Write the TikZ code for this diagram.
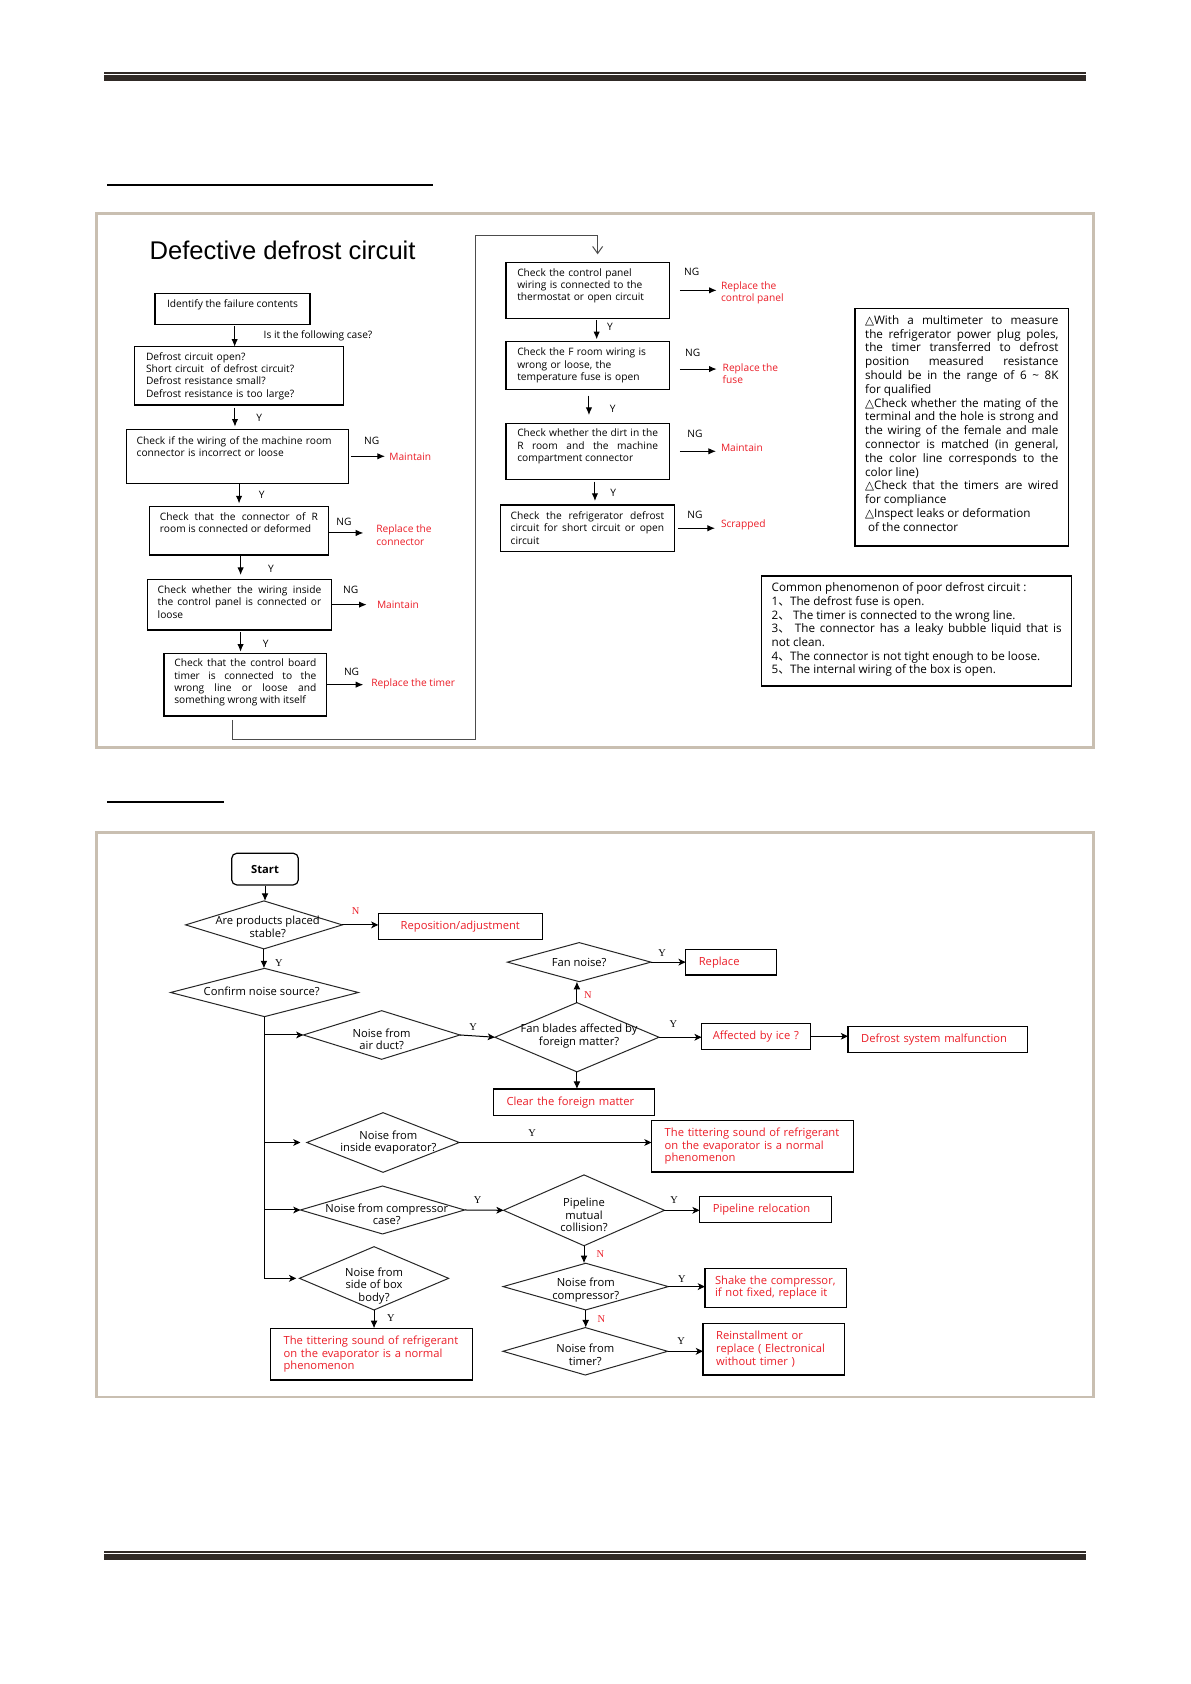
\documentclass[tikz,border=0pt]{standalone}
\usepackage{fontspec}
\setmainfont{Open Sans}
\newfontfamily\titlefont{Liberation Sans}
\newfontfamily\ynfont{Liberation Serif}
\newfontfamily\symfont{DejaVu Sans}
\newfontfamily\cjk{Noto Sans CJK SC}
\usetikzlibrary{arrows.meta,shapes.geometric}

\newdimen\dpx
\dpx=0.5365pt
\hyphenpenalty=10000
\definecolor{fixred}{RGB}{235,30,40}
\definecolor{framebeige}{RGB}{201,191,177}
\definecolor{rulebar}{RGB}{48,42,38}
\newcommand{\topfont}{\fontsize{5.1}{6.2}\selectfont}
\newcommand{\notefont}{\fontsize{5.85}{6.9}\selectfont}
\newcommand{\commonfont}{\fontsize{5.85}{6.85}\selectfont}
\newcommand{\botfont}{\fontsize{5.6}{6.3}\selectfont}
\newcommand{\ynsize}{\ynfont\fontsize{5.2}{6}\selectfont}
\newcommand{\tri}{{\symfont △}}
\newcommand{\dun}{{\cjk 、}}

\tikzset{
  chk/.style={draw, line width=0.7pt, anchor=north west, outer sep=0pt,
    inner ysep=0pt, align=left, font=\topfont},
  jst/.style={align=justify},
  fixtxt/.style={text=fixred, font=\topfont, inner sep=0pt, anchor=west, align=left},
  ngtxt/.style={font=\topfont, inner sep=0pt},
  flow/.style={-{Latex[length=3.8pt,width=3.2pt]}, line width=0.5pt},
  dia/.style={diamond, draw=black!85, line width=0.5pt, inner sep=0pt, outer sep=0pt},
  dtxt/.style={font=\botfont, inner sep=0pt, align=center},
  resbox/.style={draw, line width=0.6pt, anchor=north west, outer sep=0pt,
    inner xsep=12.3\dpx, inner ysep=0pt, text=fixred, font=\botfont, align=left},
  ylab/.style={font=\ynsize, inner sep=0pt},
  nlab/.style={font=\ynsize, text=fixred, inner sep=0pt},
  vflow/.style={-{Latex[length=3.8pt,width=3.4pt]}, line width=0.5pt},
  hflow/.style={-{Stealth[length=3.6pt,width=3.4pt,inset=1pt]}, line width=0.5pt}
}

\begin{document}
\begin{tikzpicture}[x=0.5365pt,y=-0.5365pt]
\useasboundingbox (0,0) rectangle (1110,1569.5);
\fill[white] (0,0) rectangle (1110,1569.5);

\fill[rulebar] (97,67.2) rectangle (1012,68.8);
\fill[rulebar] (97,70.1) rectangle (1012,75.4);
\fill[rulebar] (97,1445.6) rectangle (1012,1447.2);
\fill[rulebar] (97,1448.6) rectangle (1012,1453.9);
\fill (100,171.5) rectangle (404,173.5);
\fill (100,746.5) rectangle (209,748.5);
\draw[framebeige, line width=1.4pt] (90,199) rectangle (1019,697);
\draw[framebeige, line width=1.4pt] (90,776) rectangle (1019,1302);

\node[anchor=base west, inner sep=0pt, font=\titlefont\fontsize{12.8}{15}\selectfont] (title) at (139,242.3) {Defective defrost circuit};

\node[chk, minimum width=144.4\dpx, text height=13.4\dpx, text depth=15.6\dpx] (ident) at (144.5,273.4) {Identify the failure contents};
\node[ngtxt, anchor=west] (ask) at (245.4,312.8) {Is it the following case?};
\node[chk, inner xsep=10.9\dpx, text width=173\dpx, text height=12.5\dpx, text depth=41.8\dpx] (defr) at (125.2,323.1)
  {Defrost circuit open?\\Short circuit\ \ of defrost circuit?\\Defrost resistance small?\\Defrost resistance is too large?};
\node[chk, inner xsep=9.4\dpx, text width=187.8\dpx, text height=14.1\dpx, text depth=36.2\dpx] (wire) at (118,400.1)
  {Check if the wiring of the machine room\\connector is incorrect or loose};
\node[chk, jst, inner xsep=9.9\dpx, text width=147.3\dpx, text height=12.5\dpx, text depth=32.5\dpx] (rconn) at (139.2,472.2)
  {Check that the connector of R\linebreak room is connected or deformed};
\node[chk, jst, inner xsep=9.4\dpx, text width=152.4\dpx, text height=13.2\dpx, text depth=34\dpx] (cpan) at (137.6,539.9)
  {Check whether the wiring inside\linebreak the control panel is connected or\linebreak loose};
\node[chk, jst, inner xsep=9.7\dpx, text width=132.3\dpx, text height=12.5\dpx, text depth=45.9\dpx] (tmr) at (152.8,608.9)
  {Check that the control board\linebreak timer is connected to the\linebreak wrong line or loose and\linebreak something wrong with itself};

\node[chk, inner xsep=10.5\dpx, text width=131.2\dpx, text height=12.8\dpx, text depth=39.4\dpx] (cp) at (471.6,244.5)
  {Check the control panel\\wiring is connected to the\\thermostat or open circuit};
\node[chk, inner xsep=10.5\dpx, text width=131.2\dpx, text height=13.5\dpx, text depth=31.2\dpx] (froom) at (471.6,318.1)
  {Check the F room wiring is\\wrong or loose, the\\temperature fuse is open};
\node[chk, jst, inner xsep=10.5\dpx, text width=131.2\dpx, text height=12.5\dpx, text depth=39.7\dpx] (dirt) at (471.6,394.5)
  {Check whether the dirt in the\linebreak R room and the machine\linebreak compartment connector};
\node[chk, jst, inner xsep=9.4\dpx, text width=143\dpx, text height=13.5\dpx, text depth=29.9\dpx] (refr) at (466.6,470.6)
  {Check the refrigerator defrost\linebreak circuit for short circuit or open\linebreak circuit};

\node[chk, jst, font=\notefont, inner xsep=9.5\dpx, text width=180.2\dpx, text height=15\dpx, text depth=206.6\dpx] (notes) at (796.8,287.3)
  {\tri With a multimeter to measure\linebreak
   the refrigerator power plug poles,\linebreak
   the timer transferred to defrost\linebreak
   position measured resistance\linebreak
   should be in the range of 6 \textasciitilde{} 8K\linebreak
   for qualified\\
   \tri Check whether the mating of the\linebreak
   terminal and the hole is strong and\linebreak
   the wiring of the female and male\linebreak
   connector is matched (in general,\linebreak
   the color line corresponds to the\linebreak
   color line)\\
   \tri Check that the timers are wired\linebreak
   for compliance\\
   \tri Inspect leaks or deformation\\
   \hspace*{1.5pt}of the connector};
\node[chk, jst, font=\commonfont, inner xsep=9.3\dpx, text width=270.3\dpx, text height=14.7\dpx, text depth=87.8\dpx] (common) at (709.9,536.8)
  {Common phenomenon of poor defrost circuit :\\
   1\dun The defrost fuse is open.\\
   2\dun\ The timer is connected to the wrong line.\\
   3\dun\ The connector has a leaky bubble liquid that is\linebreak
   not clean.\\
   4\dun The connector is not tight enough to be loose.\\
   5\dun The internal wiring of the box is open.};

\node[fixtxt] (mt1) at (362.5,425.6) {Maintain};
\node[fixtxt] (rc) at (350.4,498.7) {Replace the\\connector};
\node[fixtxt] (mt2) at (351,563.8) {Maintain};
\node[fixtxt] (rt) at (345.8,637.5) {Replace the timer};
\node[fixtxt] (rcp) at (671.6,272.7) {Replace the\\control panel};
\node[fixtxt] (rf) at (673.2,348.4) {Replace the\\fuse};
\node[fixtxt] (mt3) at (671.6,416.9) {Maintain};
\node[fixtxt] (scr) at (671.6,489.6) {Scrapped};

\node[ngtxt] (ng1) at (346.4,410.7) {NG};
\node[ngtxt] (ng2) at (320.6,486.5) {NG};
\node[ngtxt] (ng3) at (326.8,549.9) {NG};
\node[ngtxt] (ng4) at (327.7,626) {NG};
\node[ngtxt] (ng5) at (644.6,253.8) {NG};
\node[ngtxt] (ng6) at (645.6,329.3) {NG};
\node[ngtxt] (ng7) at (647.7,404.5) {NG};
\node[ngtxt] (ng8) at (647.7,480) {NG};
\node[ngtxt] (y1) at (241.7,389.9) {Y};
\node[ngtxt] (y2) at (243.9,461.3) {Y};
\node[ngtxt] (y3) at (252.6,530.6) {Y};
\node[ngtxt] (y4) at (247.6,600.2) {Y};
\node[ngtxt] (y5) at (568.5,305) {Y};
\node[ngtxt] (y6) at (571,381.2) {Y};
\node[ngtxt] (y7) at (571.6,459.8) {Y};

\draw[flow, shorten <=1.2\dpx] ([xshift=2\dpx]ident.south) -- ([xshift=2\dpx]ident.south |- defr.north);
\draw[flow, shorten <=2.6\dpx, shorten >=2.5\dpx] ([xshift=-3.6\dpx]defr.south) -- ([xshift=-3.6\dpx]defr.south |- wire.north);
\draw[flow, shorten >=3\dpx] ([xshift=1.5\dpx]wire.south) -- ([xshift=1.5\dpx]wire.south |- rconn.north);
\draw[flow, shorten <=1\dpx, shorten >=4\dpx] ([xshift=1.5\dpx]rconn.south) -- ([xshift=1.5\dpx]rconn.south |- cpan.north);
\draw[flow, shorten <=2.2\dpx, shorten >=1.5\dpx] ([xshift=1\dpx]cpan.south) -- ([xshift=1\dpx]cpan.south |- tmr.north);
\draw[flow, shorten <=1.5\dpx, shorten >=1.9\dpx] ([xshift=8.4\dpx]cp.south) -- ([xshift=8.4\dpx]cp.south |- froom.north);
\draw[flow, shorten <=6\dpx, shorten >=7.7\dpx] ([xshift=1.2\dpx]froom.south) -- ([xshift=1.2\dpx]froom.south |- dirt.north);
\draw[flow, shorten <=2.2\dpx, shorten >=3.7\dpx] ([xshift=6.8\dpx]dirt.south) -- ([xshift=6.8\dpx]dirt.south |- refr.north);

\draw[flow, shorten <=2.5\dpx, shorten >=3.7\dpx] (wire.east) -- (wire.east -| mt1.west);
\draw[flow, shorten <=0.6\dpx, shorten >=11.8\dpx] ([yshift=-2\dpx]rconn.east) -- ([yshift=-2\dpx]rconn.east -| rc.west);
\draw[flow, shorten >=9.3\dpx] (cpan.east) -- (cpan.east -| mt2.west);
\draw[flow, shorten <=0.6\dpx, shorten >=7.2\dpx] (tmr.east) -- (tmr.east -| rt.west);
\draw[flow, shorten <=9.9\dpx, shorten >=3.7\dpx] (cp.east) -- (cp.east -| rcp.west);
\draw[flow, shorten <=9.9\dpx, shorten >=5.3\dpx] ([yshift=-3.5\dpx]froom.east) -- ([yshift=-3.5\dpx]froom.east -| rf.west);
\draw[flow, shorten <=9.9\dpx, shorten >=4.3\dpx] (dirt.east) -- (dirt.east -| mt3.west);
\draw[flow, shorten <=3.8\dpx, shorten >=5.2\dpx] (refr.east) -- (refr.east -| scr.west);

\coordinate (lpa) at (443.3,689);
\coordinate (lpb) at (443.3,219.6);
\draw[black!70, line width=0.5pt, -{Straight Barb[length=3.5pt,width=5pt]}, shorten <=3.7\dpx, shorten >=7.5\dpx]
  ([xshift=-11.9\dpx]tmr.south) |- (lpa) -- (lpb) -| ([xshift=9.3\dpx]cp.north);

\node[draw, rounded corners=2.5pt, line width=0.6pt, minimum width=62\dpx, minimum height=29.5\dpx, inner sep=0pt, font=\botfont\bfseries] (start) at (247,810) {Start};

\node[dia, minimum width=146\dpx, minimum height=44.7\dpx] (stab) at (246,862) {};
\node[dia, minimum width=175\dpx, minimum height=45\dpx] (src) at (246.5,925) {};
\node[dia, minimum width=146\dpx, minimum height=45.3\dpx] (duct) at (355.7,964.6) {};
\node[dia, minimum width=153\dpx, minimum height=64.5\dpx] (blade) at (537.7,966.7) {};
\node[dia, minimum width=133.7\dpx, minimum height=36.4\dpx] (fan) at (539.8,896.7) {};
\node[dia, minimum width=142\dpx, minimum height=55.6\dpx] (evap) at (357,1064.8) {};
\node[dia, minimum width=153\dpx, minimum height=44.7\dpx] (ccase) at (356.5,1127.7) {};
\node[dia, minimum width=150\dpx, minimum height=66\dpx] (pipe) at (544.3,1128) {};
\node[dia, minimum width=154\dpx, minimum height=43.5\dpx] (comp) at (545.9,1199.1) {};
\node[dia, minimum width=153.5\dpx, minimum height=44.2\dpx] (timer) at (545.5,1259.4) {};
\node[dia, minimum width=139\dpx, minimum height=59\dpx] (side) at (348.6,1191.4) {};

\node[dtxt] (stabt) at ([xshift=3.5\dpx,yshift=-2\dpx]stab.center) {Are products placed\\stable?};
\node[dtxt] (srct) at ([xshift=-2.6\dpx,yshift=1.4\dpx]src.center) {Confirm noise source?};
\node[dtxt] (ductt) at ([yshift=-4\dpx]duct.center) {Noise from\\air duct?};
\node[dtxt] (bladet) at ([xshift=2\dpx,yshift=1\dpx]blade.center) {Fan blades affected by\\foreign matter?};
\node[dtxt] (fant) at (fan.center) {Fan noise?};
\node[dtxt] (evapt) at ([xshift=5\dpx]evap.center) {Noise from\\inside evaporator?};
\node[dtxt] (ccaset) at ([xshift=4\dpx,yshift=-4\dpx]ccase.center) {Noise from compressor\\case?};
\node[dtxt] (pipet) at ([yshift=-4.5\dpx]pipe.center) {Pipeline\\mutual\\collision?};
\node[dtxt] (compt) at ([yshift=-3.4\dpx]comp.center) {Noise from\\compressor?};
\node[dtxt] (timert) at ([yshift=-3.4\dpx]timer.center) {Noise from\\timer?};
\node[dtxt] (sidet) at ([yshift=-7\dpx]side.center) {Noise from\\side of box\\body?};

\node[resbox, align=center, text width=128.2\dpx, minimum height=24.2\dpx] (repo) at (352.6,851.2) {Reposition/adjustment};
\node[resbox, text width=60.2\dpx, minimum height=24\dpx] (repl) at (639,884.7) {Replace};
\node[resbox, inner xsep=10.4\dpx, text width=81\dpx, minimum height=24.2\dpx] (ice) at (653.9,953.7) {Affected by ice ?};
\node[resbox, text width=142.4\dpx, minimum height=23.9\dpx] (dfm) at (790.3,956.8) {Defrost system malfunction};
\node[resbox, text width=125.4\dpx, minimum height=25\dpx] (clear) at (459.8,1015) {Clear the foreign matter};
\node[resbox, text width=163.6\dpx, minimum height=47.9\dpx] (tit1) at (607.2,1044.4)
  {The tittering sound of refrigerant\\on the evaporator is a normal\\phenomenon};
\node[resbox, text width=98\dpx, minimum height=23.9\dpx] (reloc) at (652,1115.3) {Pipeline relocation};
\node[resbox, inner xsep=9.4\dpx, text width=113\dpx, minimum height=36.4\dpx] (shake) at (657,1182) {Shake the compressor,\\if not fixed, replace it};
\node[resbox, text width=107.3\dpx, minimum height=48.2\dpx] (reinst) at (655.2,1233.3) {Reinstallment or\\replace ( Electronical\\without timer )};
\node[resbox, text width=163.6\dpx, minimum height=48.1\dpx] (tit2) at (252,1238)
  {The tittering sound of refrigerant\\on the evaporator is a normal\\phenomenon};

\node[nlab] (n1) at (331.5,849) {N};
\node[ylab] (y8) at (260,897.8) {Y};
\node[ylab] (y9) at (441,956.8) {Y};
\node[nlab] (n2) at (547.8,927.3) {N};
\node[ylab] (y10) at (617,887.9) {Y};
\node[ylab] (y11) at (627.5,954.6) {Y};
\node[ylab] (y12) at (496,1056.2) {Y};
\node[ylab] (y13) at (445.2,1118.4) {Y};
\node[ylab] (y14) at (628.3,1118.4) {Y};
\node[nlab] (n3) at (559.5,1169) {N};
\node[ylab] (y15) at (635.5,1192.3) {Y};
\node[nlab] (n4) at (560.6,1229.3) {N};
\node[ylab] (y16) at (634.8,1249.8) {Y};
\node[ylab] (y17) at (364.2,1228) {Y};

\draw[vflow] (start.south) -- (start.south |- stab.north);
\draw[hflow] (stab.east) -- (stab.east -| repo.west);
\draw[vflow] (stab.south) -- (stab.south |- src.north);
\draw[hflow, shorten >=3\dpx] (src.south) |- (side.west);
\draw[hflow] (src.south |- duct.west) -- (duct.west);
\draw[hflow, shorten >=6\dpx] (src.south |- evap.west) -- (evap.west);
\draw[hflow] (src.south |- ccase.west) -- (ccase.west);
\draw[hflow] (duct.east) -- (blade.west);
\draw[vflow] (blade.north) -- (blade.north |- fan.south);
\draw[hflow] (fan.east) -- (fan.east -| repl.west);
\draw[hflow] (blade.east) -- (blade.east -| ice.west);
\draw[hflow] (ice.east) -- (ice.east -| dfm.west);
\draw[vflow] (blade.south) -- (blade.south |- clear.north);
\draw[hflow] (evap.east) -- (evap.east -| tit1.west);
\draw[hflow] (ccase.east) -- (pipe.west);
\draw[hflow] (pipe.east) -- (pipe.east -| reloc.west);
\draw[vflow] (pipe.south) -- (pipe.south |- comp.north);
\draw[hflow] (comp.east) -- (comp.east -| shake.west);
\draw[vflow] (comp.south) -- (comp.south |- timer.north);
\draw[hflow] (timer.east) -- (timer.east -| reinst.west);
\draw[vflow] (side.south) -- (side.south |- tit2.north);
\end{tikzpicture}
\end{document}
